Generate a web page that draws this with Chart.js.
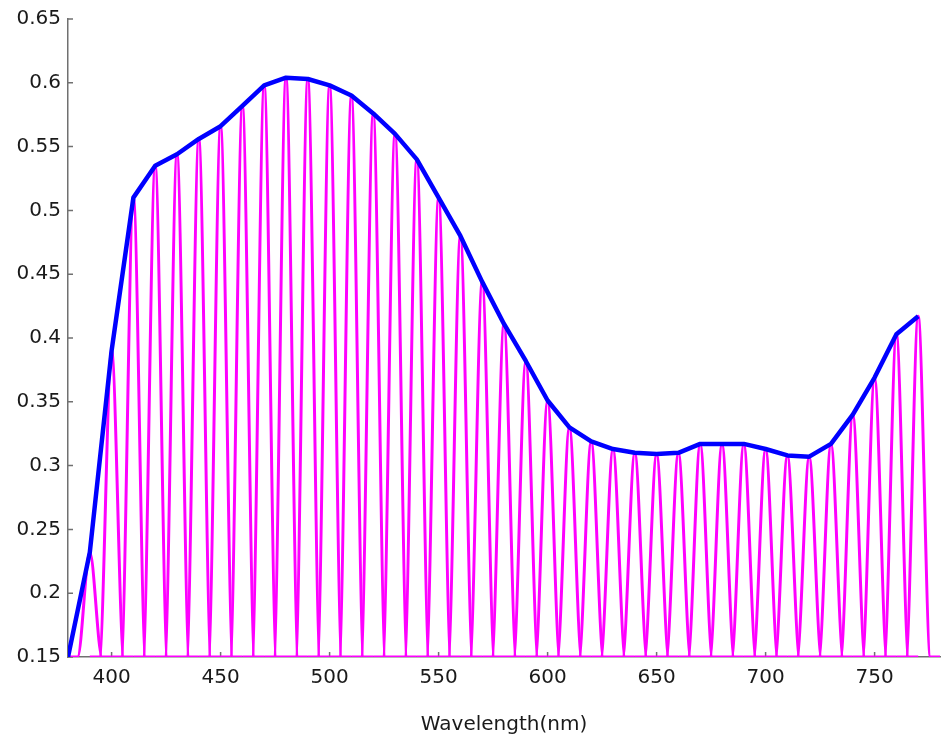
<!DOCTYPE html>
<html lang="en">
<head>
  <meta charset="UTF-8">
  <title>Wavelength spectrum</title>
  <style>
    html, body {
      margin: 0;
      padding: 0;
      background: #fff;
    }
    .wrap {
      width: 951px;
      height: 738px;
      position: relative;
    }
  </style>
</head>
<body>
  <div class="wrap">
    <canvas id="spectrum"></canvas>
  </div>
  <script src="https://cdn.jsdelivr.net/npm/chart.js"></script>
  <script>
    // Envelope (blue line)
    const wavelengths = [380, 390, 400, 410, 420, 430, 440, 450, 460, 470,
                         480, 490, 500, 510, 520, 530, 540, 550, 560, 570,
                         580, 590, 600, 610, 620, 630, 640, 650, 660, 670,
                         680, 690, 700, 710, 720, 730, 740, 750, 760, 770];
    const envelope = [0.150, 0.232, 0.390, 0.510, 0.535, 0.544, 0.556, 0.566, 0.582, 0.598,
                      0.604, 0.603, 0.598, 0.590, 0.576, 0.560, 0.540, 0.510, 0.480, 0.444,
                      0.411, 0.382, 0.351, 0.330, 0.319, 0.313, 0.310, 0.309, 0.310, 0.317,
                      0.317, 0.317, 0.313, 0.308, 0.307, 0.317, 0.340, 0.369, 0.403, 0.417];

    // Narrow band peaks (magenta), one per 10 nm from 390 to 770
    const peakCenters = wavelengths.slice(1);
    const peakHeights = envelope.slice(1);

    const xTicks = [400, 450, 500, 550, 600, 650, 700, 750];
    const yTicks = [0.15, 0.2, 0.25, 0.3, 0.35, 0.4, 0.45, 0.5, 0.55, 0.6, 0.65];

    const baseline = 0.15;
    const halfWidth = 5.6;   // nm from peak to foot
    const footSpan = 10;     // nm of flat tail each side

    const axisGray = "#707070";
    const fontFamily = "'DejaVu Sans', sans-serif";

    const datasets = [];
    // blue envelope first so it draws on top
    datasets.push({
      data: wavelengths.map((w, i) => ({ x: w, y: envelope[i] })),
      borderColor: "#0000ff",
      borderWidth: 4.5,
      pointRadius: 0,
      tension: 0,
      borderJoinStyle: "round"
    });
    peakCenters.forEach((c, i) => {
      datasets.push({
        data: [
          { x: c - footSpan, y: baseline },
          { x: c - halfWidth, y: baseline },
          { x: c, y: peakHeights[i] },
          { x: c + halfWidth, y: baseline },
          { x: c + footSpan, y: baseline }
        ],
        borderColor: "#ff00ff",
        borderWidth: 3,
        pointRadius: 0,
        cubicInterpolationMode: "monotone"
      });
    });

    // tick marks pointing into the plot, like the original
    const innerTicks = {
      id: "innerTicks",
      beforeDatasetsDraw(chart) {
        const { ctx, scales: { x, y } } = chart;
        ctx.save();
        ctx.strokeStyle = axisGray;
        ctx.lineWidth = 1.5;
        ctx.beginPath();
        x.ticks.forEach(t => {
          const px = x.getPixelForValue(t.value);
          ctx.moveTo(px, y.bottom);
          ctx.lineTo(px, y.bottom - 5);
        });
        y.ticks.forEach(t => {
          const py = y.getPixelForValue(t.value);
          ctx.moveTo(x.left, py);
          ctx.lineTo(x.left + 5, py);
        });
        ctx.stroke();
        ctx.restore();
      }
    };

    new Chart(document.getElementById("spectrum"), {
      type: "line",
      data: { datasets },
      plugins: [innerTicks],
      options: {
        responsive: true,
        maintainAspectRatio: false,
        animation: false,
        layout: { padding: { top: 16, right: 11, left: 0, bottom: 0 } },
        plugins: {
          legend: { display: false },
          tooltip: { enabled: false }
        },
        scales: {
          x: {
            type: "linear",
            min: 380,
            max: 780,
            afterBuildTicks: s => { s.ticks = xTicks.map(v => ({ value: v })); },
            afterFit: s => { s.height = 81; },
            grid: { display: false, drawTicks: false },
            border: { display: true, color: axisGray, width: 1.5 },
            ticks: {
              padding: 9,
              color: "#1a1a1a",
              font: { family: fontFamily, size: 20 },
              maxRotation: 0
            },
            title: {
              display: true,
              text: "Wavelength(nm)",
              color: "#1a1a1a",
              font: { family: fontFamily, size: 20 },
              padding: { top: 0, bottom: 1 }
            }
          },
          y: {
            min: 0.15,
            max: 0.65,
            afterBuildTicks: s => { s.ticks = yTicks.map(v => ({ value: v })); },
            afterFit: s => { s.width = 68; },
            grid: { display: false, drawTicks: false },
            border: { display: true, color: axisGray, width: 1.5 },
            ticks: {
              padding: 7,
              color: "#1a1a1a",
              font: { family: fontFamily, size: 20 },
              callback: v => String(+v.toFixed(2))
            }
          }
        }
      }
    });
  </script>
</body>
</html>
